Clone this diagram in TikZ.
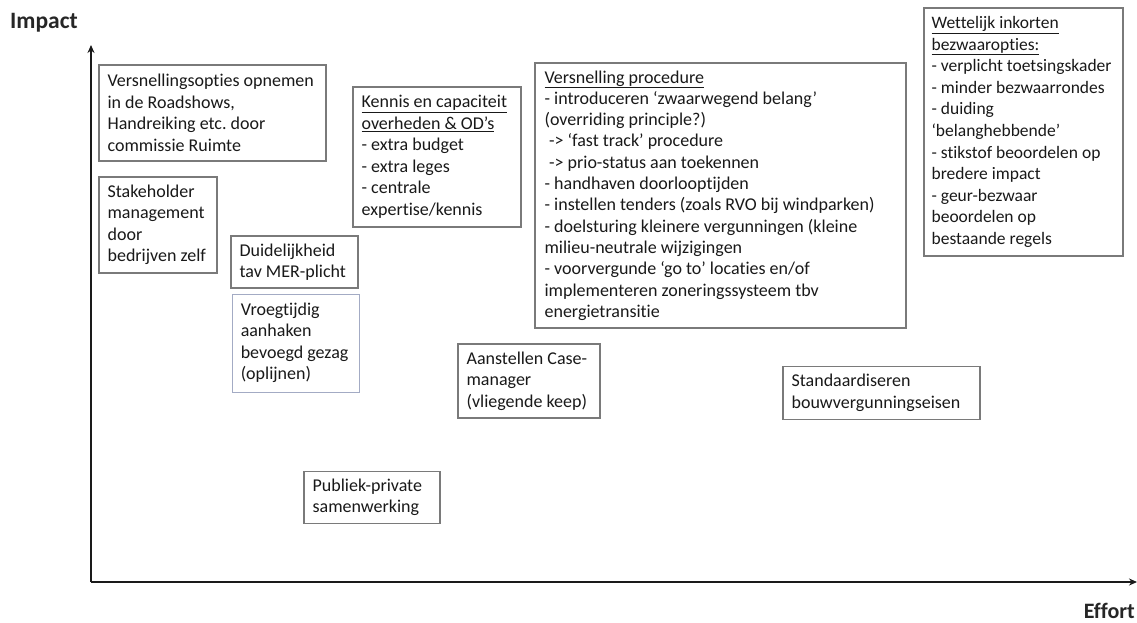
\documentclass[tikz,border=0pt]{standalone}
\usepackage{fontspec}
\setmainfont{Carlito}[Ligatures={TeX,NoCommon}]
\usetikzlibrary{arrows.meta}
\definecolor{boxgray}{HTML}{7A7A7A}
\definecolor{boxblue}{HTML}{A3ABC4}
\definecolor{axisblack}{HTML}{1A1A1A}
\frenchspacing
\begin{document}
\begin{tikzpicture}[x=1pt,y=-1pt,
  box/.style={draw=boxgray, line width=1.2pt, fill=white, inner sep=0pt},
  lightbox/.style={box, draw=boxblue, line width=0.9pt},
  txt/.style={inner sep=0pt, align=left, anchor=west, text=black!90, font=\fontsize{18}{21.5}\selectfont},
  axislabel/.style={inner sep=0pt, font=\bfseries\fontsize{23.5}{25}\selectfont, text=black!85},
  axis/.style={draw=axisblack, line width=1.7pt, -{Stealth[length=8pt,width=7pt]}}
]
\useasboundingbox (0,0) rectangle (1137,623);

% axes
\coordinate (o) at (91,582);
\coordinate (ytip) at (91,45);
\coordinate (xtip) at (1137,582);
\draw[axis] (o) -- (ytip);
\draw[axis] (o) -- (xtip);
\node[axislabel, anchor=west] (imp) at (10,23) {Impact};
\node[axislabel, anchor=east, font=\bfseries\fontsize{22}{24}\selectfont] (eff) at (1135,611) {Effort};

% boxes
\node[box, minimum width=227, minimum height=96] (b1) at (212.5,113) {};
\node[txt] (t1) at ([xshift=9pt]b1.west)
  {Versnellingsopties opnemen\\in de Roadshows,\\Handreiking etc. door\\commissie Ruimte};

\node[box, minimum width=118, minimum height=96] (b2) at (158,225) {};
\node[txt] (t2) at ([xshift=9pt]b2.west)
  {Stakeholder\\management\\door\\bedrijven zelf};

\node[box, minimum width=127, minimum height=52] (b3) at (294.5,262) {};
\node[txt] (t3) at ([xshift=9pt]b3.west)
  {Duidelijkheid\\tav MER-plicht};

\node[lightbox, minimum width=127, minimum height=98] (b4) at (295.5,343) {};
\node[txt] (t4) at ([xshift=9pt]b4.west)
  {Vroegtijdig\\aanhaken\\bevoegd gezag\\(oplijnen)};

\node[box, minimum width=168, minimum height=140] (b5) at (437,157) {};
\node[txt] (t5) at ([xshift=9pt]b5.west)
  {\underline{Kennis en capaciteit}\\\underline{overheden \& OD’s}\\- extra budget\\- extra leges\\- centrale\\expertise/kennis};

\node[box, minimum width=371, minimum height=265] (b6) at (720.5,195.5) {};
\node[txt, font=\fontsize{18}{21.3}\selectfont] (t6) at ([xshift=10pt]b6.west)
  {\underline{Versnelling procedure}\\
   - introduceren ‘zwaarwegend belang’\\
   (overriding principle?)\\
   \hspace*{0.25em}-> ‘fast track’ procedure\\
   \hspace*{0.25em}-> prio-status aan toekennen\\
   - handhaven doorlooptijden\\
   - instellen tenders (zoals RVO bij windparken)\\
   - doelsturing kleinere vergunningen (kleine\\
   milieu-neutrale wijzigingen\\
   - voorvergunde ‘go to’ locaties en/of\\
   implementeren zoneringssysteem tbv\\
   energietransitie};

\node[box, minimum width=199, minimum height=248] (b7) at (1023.5,132) {};
\node[txt, font=\fontsize{17.5}{21.6}\selectfont] (t7) at ([xshift=8pt]b7.west)
  {\underline{Wettelijk inkorten}\\
   \underline{bezwaaropties:}\\
   - verplicht toetsingskader\\
   - minder bezwaarrondes\\
   - duiding\\
   ‘belanghebbende’\\
   - stikstof beoordelen op\\
   bredere impact\\
   - geur-bezwaar\\
   beoordelen op\\
   bestaande regels};

\node[box, minimum width=142, minimum height=74] (b8) at (529,381) {};
\node[txt] (t8) at ([xshift=9pt]b8.west)
  {Aanstellen Case-\\manager\\(vliegende keep)};

\node[box, minimum width=197, minimum height=53] (b9) at (881.5,393) {};
\node[txt] (t9) at ([xshift=9pt]b9.west)
  {Standaardiseren\\bouwvergunningseisen};

\node[box, minimum width=136, minimum height=52] (b10) at (372,497.5) {};
\node[txt] (t10) at ([xshift=9pt]b10.west)
  {Publiek-private\\samenwerking};
\end{tikzpicture}
\end{document}
